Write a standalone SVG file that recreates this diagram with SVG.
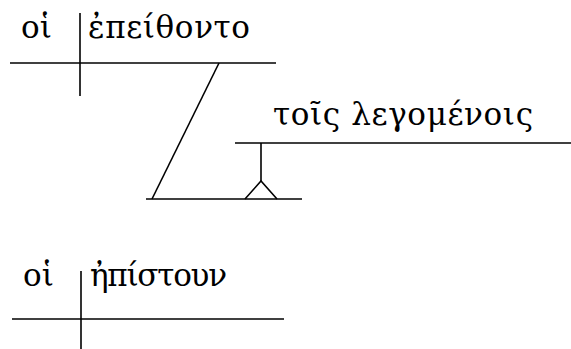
<svg xmlns="http://www.w3.org/2000/svg" width="571" height="349" viewBox="0 0 571 349">
<style>
.ln{stroke:#000;stroke-width:1.6;fill:none;stroke-linecap:butt}
.t{font-family:"DejaVu Serif","Noto Sans",serif;font-size:31px;fill:#000}
</style>
<rect width="571" height="349" fill="#fff"/>
<g id="connectors">
<line class="ln" x1="219" y1="63" x2="152" y2="199"/>
</g>
<g id="clause1">
<line class="ln" x1="10" y1="63" x2="276" y2="63"/>
<line class="ln" x1="80" y1="13" x2="80" y2="96"/>
<text class="t" x="21" y="38">οἱ</text>
<text class="t" x="88" y="38" textLength="162" lengthAdjust="spacing">ἐπείθοντο</text>
</g>
<g id="base">
<line class="ln" x1="146" y1="199" x2="302" y2="199"/>
<polyline class="ln" points="245,199 261,181 277,199"/>
<line class="ln" x1="261" y1="181" x2="261" y2="143"/>
</g>
<g id="participle">
<line class="ln" x1="235" y1="143" x2="571" y2="143"/>
<text class="t" x="273" y="125" textLength="260" lengthAdjust="spacing">τοῖς λεγομένοις</text>
</g>
<g id="clause2">
<line class="ln" x1="12" y1="319" x2="284" y2="319"/>
<line class="ln" x1="81" y1="271" x2="81" y2="349"/>
<text class="t" x="23" y="286">οἱ</text>
<text class="t" x="90" y="286" textLength="137" lengthAdjust="spacing">ἠπίστουν</text>
</g>
</svg>
